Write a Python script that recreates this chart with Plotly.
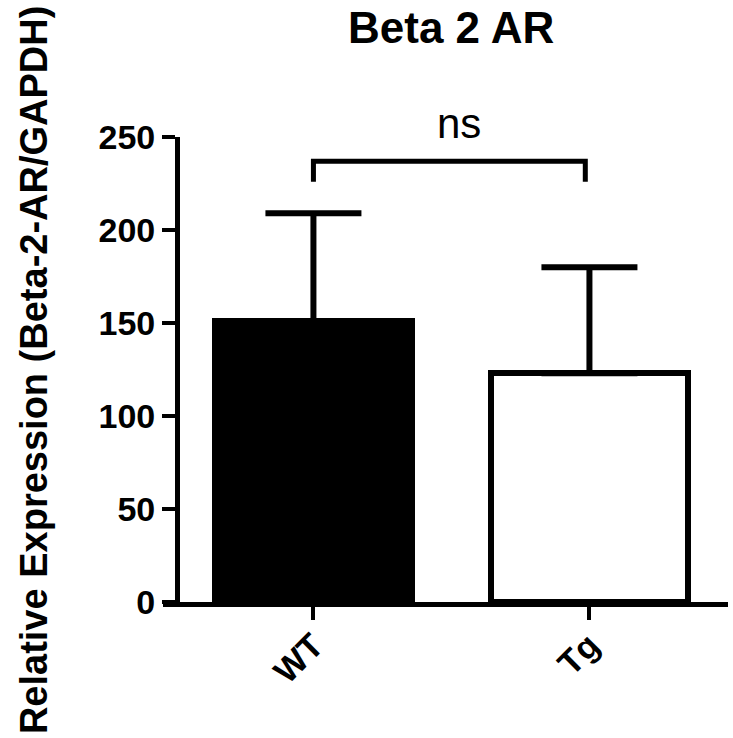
import plotly.graph_objects as go

# values
groups = ["WT", "Tg"]
means = [151, 123]
sem_up = [58, 57]
bar_fill = ["black", "white"]
y_ticks = [0, 50, 100, 150, 200, 250]

# significance bracket between the two groups
sig_label = "ns"
sig_top = 237
sig_drop = 226

FONT = "Liberation Sans, Arial, Helvetica, sans-serif"


def main():
    fig = go.Figure()

    fig.add_trace(go.Bar(
        x=groups, y=means,
        width=0.714,
        marker=dict(color=bar_fill, line=dict(color="black", width=6)),
        error_y=dict(type="data", symmetric=False, array=sem_up,
                     arrayminus=[0, 0], color="black", thickness=6, width=48),
        showlegend=False,
    ))

    # bracket + label
    fig.add_shape(type="path",
                  path=f"M 0,{sig_drop} L 0,{sig_top} L 0.985,{sig_top} L 0.985,{sig_drop}",
                  xref="x", yref="y", line=dict(color="black", width=5))
    fig.add_annotation(x=0.524, y=1.029, xref="paper", yref="paper", text=sig_label,
                       showarrow=False, xanchor="center", yanchor="middle",
                       borderpad=0,
                       font=dict(family=FONT, size=42, color="black"))

    # title
    fig.add_annotation(x=0.5106, y=1.235, xref="paper", yref="paper",
                       text="<b>Beta 2 AR</b>", showarrow=False,
                       xanchor="center", yanchor="middle", borderpad=0,
                       font=dict(family=FONT, size=44, color="black"))

    # y axis title
    fig.add_annotation(x=-0.229, y=0.5, xref="paper", yref="paper",
                       text="<b>Relative Expression (Beta-2-AR/GAPDH)</b>",
                       textangle=-90, showarrow=False, borderpad=0,
                       xanchor="center", yanchor="middle",
                       font=dict(family=FONT, size=38, color="black"))

    fig.update_xaxes(range=[-0.545, 1.502], showline=True, linecolor="black",
                     linewidth=5, ticks="outside", ticklen=13, tickwidth=4,
                     tickcolor="black", tickangle=-45, showgrid=False,
                     zeroline=False, ticklabelstandoff=-8,
                     tickfont=dict(family=FONT, size=34, color="black", weight="bold"))
    fig.update_yaxes(range=[0, 250], tickvals=y_ticks, anchor="free",
                     position=0.0248, showline=True, linecolor="black",
                     linewidth=5, ticks="outside", ticklen=13, tickwidth=4,
                     tickcolor="black", showgrid=False, zeroline=False,
                     tickfont=dict(family=FONT, size=34, color="black", weight="bold"))

    fig.update_layout(width=733, height=738,
                      margin=dict(l=163, r=5, t=137, b=136),
                      plot_bgcolor="white", paper_bgcolor="white",
                      bargap=0)

    # drop the default 8px body margin so the figure fills the window
    fig.write_html("out.html", config={"displayModeBar": False},
                   post_script="document.body.style.margin='0';")


if __name__ == "__main__":
    main()
